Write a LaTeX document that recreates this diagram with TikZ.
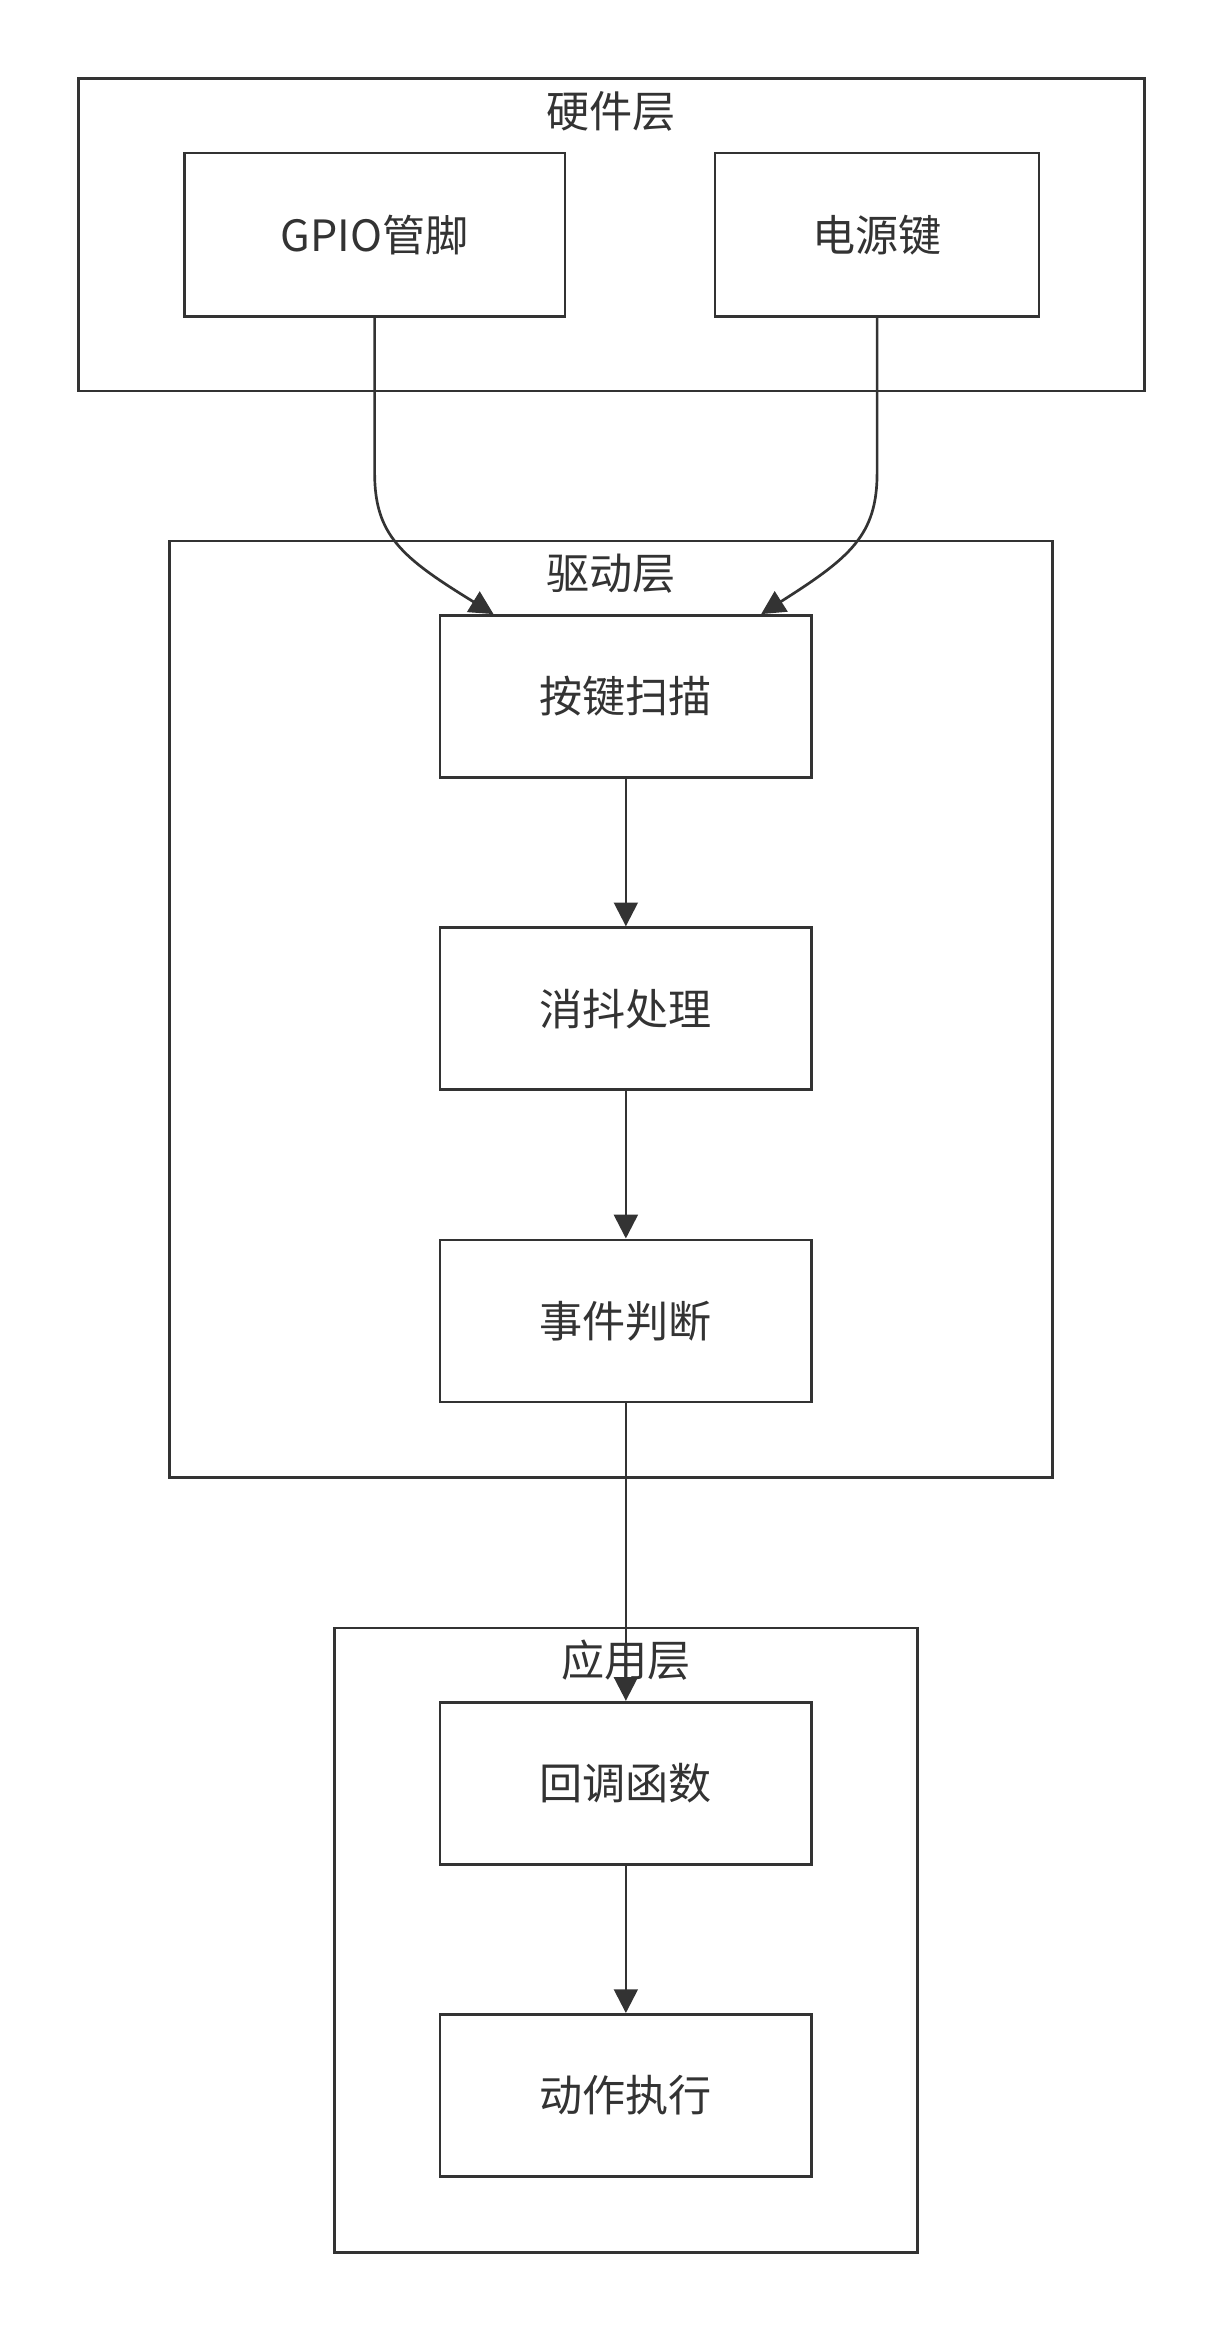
\documentclass[tikz,border=0pt]{standalone}
\usepackage{fontspec}
\setmainfont{Noto Sans CJK SC}
\usetikzlibrary{arrows.meta}
\definecolor{ink}{HTML}{333333}
\begin{document}
\begin{tikzpicture}[x=1pt,y=-1pt,
  box/.style={draw=ink,line width=1.8pt,inner sep=0pt},
  lbl/.style={text=ink,font=\fontsize{29}{32}\selectfont},
  arr/.style={draw=ink,line width=1.8pt,-{Triangle[length=16pt,width=16pt]}}]
\useasboundingbox (0,0) rectangle (826,1568);
\fill[white] (0,0) rectangle (826,1568);
% frames
\draw[box] (53,53) rectangle (770,263);
\node[lbl] (t1) at (411,75) {硬件层};
\draw[box] (114,364) rectangle (708,994);
\node[lbl] (t2) at (411,386) {驱动层};
\draw[box] (225,1095) rectangle (617,1515);
\node[lbl] (t3) at (421,1117) {应用层};
% nodes
\node[box,lbl,minimum width=256pt,minimum height=110pt] (gpio) at (252,158) {GPIO管脚};
\node[box,lbl,minimum width=218pt,minimum height=110pt] (pwr) at (590,158) {电源键};
\node[box,lbl,minimum width=250pt,minimum height=109pt] (scan) at (421,468.5) {按键扫描};
\node[box,lbl,minimum width=250pt,minimum height=109pt] (deb) at (421,678.5) {消抖处理};
\node[box,lbl,minimum width=250pt,minimum height=109pt] (evt) at (421,888.5) {事件判断};
\node[box,lbl,minimum width=250pt,minimum height=109pt] (cb) at (421,1199.5) {回调函数};
\node[box,lbl,minimum width=250pt,minimum height=109pt] (act) at (421,1409.5) {动作执行};
% edges
\draw[arr] (gpio.south) -- (252,318) .. controls (252,360) and (270,375) .. (scan.north west -| 332,414);
\draw[arr] (pwr.south) -- (590,318) .. controls (590,360) and (572,375) .. (scan.north west -| 512,414);
\draw[arr] (scan) -- (deb);
\draw[arr] (deb) -- (evt);
\draw[arr] (evt) -- (cb);
\draw[arr] (cb) -- (act);
\end{tikzpicture}
\end{document}
